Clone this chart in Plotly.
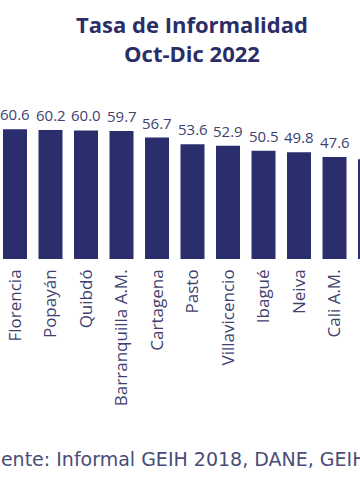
import plotly.graph_objects as go

ciudades = ["Florencia", "Popayán", "Quibdó", "Barranquilla A.M.", "Cartagena",
            "Pasto", "Villavicencio", "Ibagué", "Neiva", "Cali A.M.", "Armenia"]
tasa = [60.6, 60.2, 60.0, 59.7, 56.7, 53.6, 52.9, 50.5, 49.8, 47.6, 46.5]
etiquetas = [f"{v:.1f}" for v in tasa]

BAR = "#2a2e6d"
TXT = "#3f4270"
FONT = "Open Sans"

W, H = 360, 504
T, B = 109, 245
PH = H - T - B

fig = go.Figure(go.Bar(
    x=list(range(len(ciudades))), y=tasa, marker_color=BAR, width=0.676,
    marker_line_width=0, hoverinfo="skip",
))

for i, (v, t) in enumerate(zip(tasa, etiquetas)):
    fig.add_annotation(x=i, y=v, text=t, showarrow=False, yanchor="bottom",
                       yshift=3, font=dict(family=FONT, size=15, color=TXT))

fig.update_layout(
    width=W, height=H,
    margin=dict(l=0, r=0, t=T, b=B, autoexpand=False),
    plot_bgcolor="white", paper_bgcolor="white",
    showlegend=False,
    title=dict(text="<b>Tasa de Informalidad<br>Oct-Dic 2022</b>",
               x=192 / W, xanchor="center", y=1 - 33 / H, yanchor="middle",
               font=dict(family=FONT, size=22, color="#2b2e66")),
    xaxis=dict(range=[-0.4225, 9.718], tickmode="array",
               tickvals=list(range(len(ciudades))), ticktext=ciudades,
               tickangle=-90, showgrid=False, zeroline=False, showline=False,
               ticks="", automargin=False, ticklabelstandoff=6,
               tickfont=dict(family=FONT, size=17, color=TXT)),
    yaxis=dict(range=[0, 70], visible=False, showgrid=False, zeroline=False),
)

fig.add_annotation(xref="paper", yref="paper", x=-23 / W, y=(T + PH - 459) / PH,
                   xanchor="left", yanchor="middle", showarrow=False,
                   text="Fuente: Informal GEIH 2018, DANE, GEIH",
                   font=dict(family="DejaVu Sans", size=19, color="#4a4d78"))

fig.write_html("out.html", config={"displayModeBar": False},
               post_script="document.body.style.margin='0px';")
